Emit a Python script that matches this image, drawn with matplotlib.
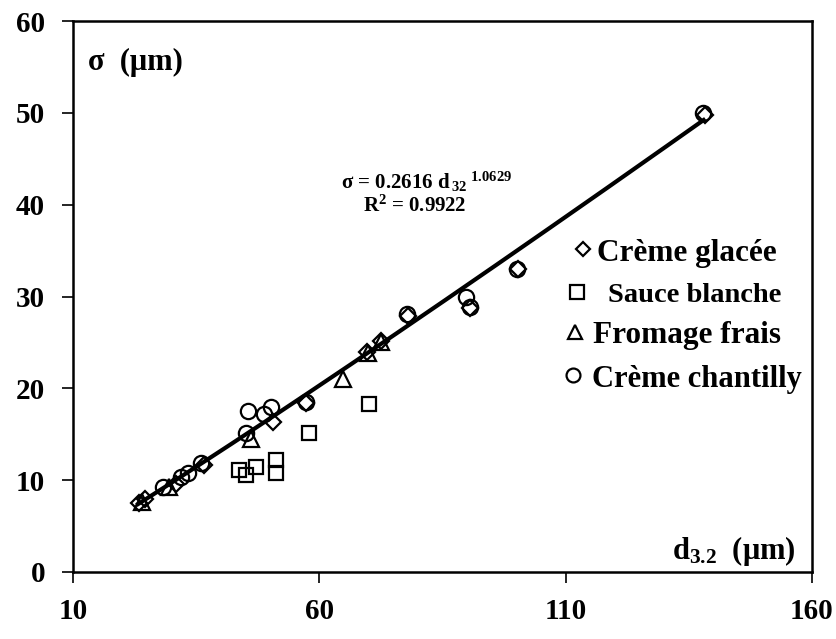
import matplotlib
matplotlib.use("Agg")
import matplotlib.pyplot as plt
import numpy as np

plt.rcParams['font.family'] = ['Liberation Serif', 'DejaVu Serif']
plt.rcParams['font.weight'] = 'bold'
plt.rcParams['mathtext.fontset'] = 'custom'
plt.rcParams['mathtext.rm'] = 'Liberation Serif:bold'
plt.rcParams['mathtext.bf'] = 'Liberation Serif:bold'
plt.rcParams['mathtext.it'] = 'Liberation Serif:bold'
plt.rcParams['mathtext.default'] = 'bf'

# data (d3.2 in um, sigma in um)
glacee_x = [23.3, 24.6, 30.9, 36.6, 50.6, 57.3, 69.6, 72.6, 78.0, 90.6, 100.4, 138.2]
glacee_y = [7.5, 7.9, 9.6, 11.6, 16.3, 18.4, 24.0, 25.1, 27.9, 28.8, 33.0, 49.8]

sauce_x = [43.7, 45.1, 47.1, 51.2, 51.2, 57.9, 70.1]
sauce_y = [11.1, 10.6, 11.4, 12.2, 10.8, 15.1, 18.3]

fromage_x = [24.0, 29.5, 46.1, 64.8, 69.8, 72.6]
fromage_y = [7.6, 9.3, 14.5, 21.0, 23.9, 25.0]

chantilly_x = [28.3, 31.9, 33.3, 36.0, 45.1, 45.5, 48.7, 50.2, 57.3, 77.7, 89.8, 90.5, 100.1, 137.8]
chantilly_y = [9.3, 10.3, 10.8, 11.9, 15.1, 17.5, 17.2, 18.0, 18.5, 28.1, 30.0, 28.9, 33.0, 50.0]

# power fit shown on the chart
fit_a = 0.2616
fit_b = 1.0629
fit_range = (23.2, 138.0)

x_ticks = [10, 60, 110, 160]
y_ticks = [0, 10, 20, 30, 40, 50, 60]

fig = plt.figure(figsize=(8.37, 6.39), dpi=100)
ax = fig.add_axes([73 / 837, 1 - 572 / 639, 739 / 837, 551 / 639])

mk = dict(linestyle='none', markerfacecolor='none', markeredgecolor='black',
          markeredgewidth=1.6)
ax.plot(glacee_x, glacee_y, marker='D', markersize=8.5, **mk)
ax.plot(sauce_x, sauce_y, marker='s', markersize=10.5, **mk)
ax.plot(fromage_x, fromage_y, marker='^', markersize=12, **mk)
ax.plot(chantilly_x, chantilly_y, marker='o', markersize=11, **mk)

fx = np.linspace(fit_range[0], fit_range[1], 200)
ax.plot(fx, fit_a * fx ** fit_b, color='black', linewidth=3.0, zorder=5)

ax.set_xlim(10, 160)
ax.set_ylim(0, 60)
ax.set_xticks(x_ticks)
ax.set_yticks(y_ticks)
ax.tick_params(axis='both', direction='out', length=8, width=1.2,
               labelsize=21, pad=11)
ax.tick_params(axis='y', pad=12)
for lab in ax.get_xticklabels() + ax.get_yticklabels():
    lab.set_fontweight('bold')
for s in ax.spines.values():
    s.set_linewidth(1.8)

ax.text(0.02, 0.925, 'σ  (μm)', transform=ax.transAxes, fontsize=22,
        fontweight='bold', va='center', ha='left')
ax.text(0.978, 0.038, r'd$_{3.2}$  (μm)', transform=ax.transAxes, fontsize=22,
        va='center', ha='right')

ax.text(0.478, 0.708, r'σ = 0.2616 d$_{\,32}$$^{\ 1.0629}$', transform=ax.transAxes,
        fontsize=15, ha='center', va='center')
ax.text(0.463, 0.664, r'R$^{2}$ = 0.9922', transform=ax.transAxes,
        fontsize=15, ha='center', va='center')

# hand placed legend (axes fraction)
legend_rows = [
    ('D', 7.5, (583, 249), 'Crème glacée', 597, 22.5),
    ('s', 10.5, (577, 292), 'Sauce blanche', 608, 20.5),
    ('^', 10, (575, 332), 'Fromage frais', 593, 22.5),
    ('o', 10, (573, 375), 'Crème chantilly', 592, 22),
]
for m, ms, (px, py), label, tx, fs in legend_rows:
    ax.plot([(px - 73) / 739], [(572 - py) / 551], marker=m, markersize=ms,
            transform=ax.transAxes, clip_on=False, **mk)
    ax.text((tx - 73) / 739, (572 - py - 4) / 551, label, transform=ax.transAxes,
            fontsize=fs, fontweight='bold', va='center', ha='left', clip_on=False)

fig.savefig('out.png', dpi=100)
